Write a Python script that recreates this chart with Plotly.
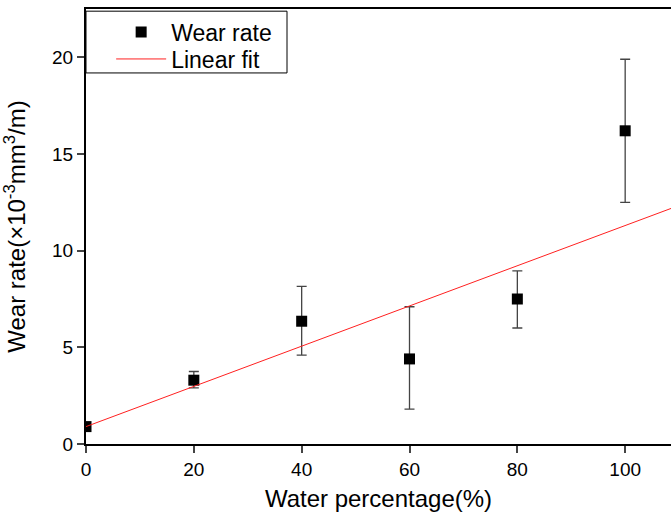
import plotly.graph_objects as go

water_pct = [0, 20, 40, 60, 80, 100]
wear_rate = [0.9, 3.3, 6.35, 4.4, 7.5, 16.2]
err_plus = [0.15, 0.45, 1.8, 2.7, 1.45, 3.7]
err_minus = [0.15, 0.4, 1.75, 2.6, 1.5, 3.7]
fit_intercept = 0.9
fit_slope = 0.104
fit_x = [0, 108.5]
fit_y = [fit_intercept + fit_slope * v for v in fit_x]
x_ticks = [0, 20, 40, 60, 80, 100]
y_ticks = [0, 5, 10, 15, 20]

font = "Liberation Sans, Arial, sans-serif"

fig = go.Figure()
fig.add_trace(go.Scatter(
    x=water_pct, y=wear_rate, mode="markers", name="Wear rate",
    marker=dict(symbol="square", size=11, color="black"),
    error_y=dict(type="data", symmetric=False, array=err_plus, arrayminus=err_minus,
                 color="#444444", thickness=1.3, width=5),
    legend="legend",
))
fig.add_trace(go.Scatter(
    x=fit_x, y=fit_y, mode="lines", name="Linear fit",
    line=dict(color="#ff2020", width=1),
    legend="legend2",
))

# legend frame
fig.add_shape(type="rect", xref="paper", yref="paper", x0=0, x1=0.3436, y0=0.853, y1=0.995,
              line=dict(color="black", width=1), fillcolor="white", layer="above")

leg_common = dict(xanchor="left", yanchor="middle", borderwidth=0, bgcolor="rgba(0,0,0,0)",
                  font=dict(size=23, family=font), itemwidth=50)

fig.update_layout(
    width=671, height=519,
    margin=dict(l=86, r=0, t=9, b=75),
    paper_bgcolor="white", plot_bgcolor="white",
    font=dict(family=font, size=19, color="black"),
    showlegend=True,
    legend=dict(x=0.043, y=1 - (32 - 9) / 435, **leg_common),
    legend2=dict(x=0.043, y=1 - (59 - 9) / 435, **leg_common),
    xaxis=dict(range=[0, 108.5], tickvals=x_ticks, ticks="outside", ticklen=7, tickwidth=2,
               showline=True, linewidth=2, linecolor="black", mirror=True,
               showgrid=False, zeroline=False,
               tickfont=dict(size=19, family=font),
               title=dict(text="Water percentage(%)", font=dict(size=24, family=font), standoff=11)),
    yaxis=dict(range=[0, 22.5], tickvals=y_ticks, ticks="outside", ticklen=7, tickwidth=2,
               showline=True, linewidth=2, linecolor="black",
               showgrid=False, zeroline=False,
               tickfont=dict(size=19, family=font),
               title=dict(text="Wear rate(×10<sup>-3</sup>mm<sup>3</sup>/m)", font=dict(size=24, family=font), standoff=20)),
)

fig.write_html("out.html")
